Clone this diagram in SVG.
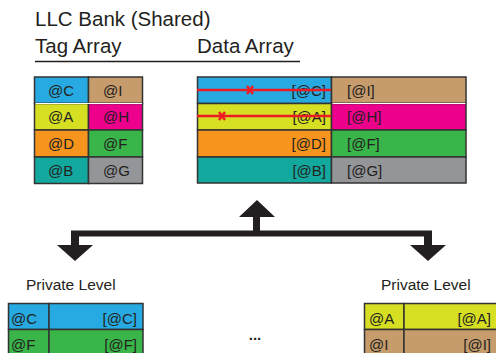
<svg xmlns="http://www.w3.org/2000/svg" width="496" height="353" viewBox="0 0 496 353">
<style>
text{font-family:"Liberation Sans",Arial,sans-serif;fill:#231F20}
.t{font-size:20.5px}
.c{font-size:15px}
.p{font-size:15.5px}
.e{text-anchor:end}
.b{stroke:#333;stroke-width:1.5}
.blue{fill:#27AAE1}.tan{fill:#C69C6D}.yel{fill:#D7DF23}.mag{fill:#EC008C}
.org{fill:#F7941D}.grn{fill:#39B54A}.teal{fill:#13A89E}.gry{fill:#939598}
.red{stroke:#ED1C24;stroke-width:2.5;fill:none}
.arr{fill:#231F20}
</style>
<g id="title">
<text class="t" x="35" y="26">LLC Bank (Shared)</text>
<text class="t" x="35" y="53">Tag Array</text>
<text class="t" x="197" y="53">Data Array</text>
<line x1="35" y1="61.5" x2="300" y2="61.5" stroke="#231F20" stroke-width="1.5"/>
</g>
<g id="tag-array">
<rect class="blue b" x="34.5" y="77" width="54" height="26.5"/>
<rect class="tan b" x="88.5" y="77" width="54" height="26.5"/>
<rect class="yel b" x="34.5" y="103.5" width="54" height="26.5"/>
<rect class="mag b" x="88.5" y="103.5" width="54" height="26.5"/>
<rect class="org b" x="34.5" y="130" width="54" height="27"/>
<rect class="grn b" x="88.5" y="130" width="54" height="27"/>
<rect class="teal b" x="34.5" y="157" width="54" height="26.5"/>
<rect class="gry b" x="88.5" y="157" width="54" height="26.5"/>
<line x1="35.5" y1="103.5" x2="142" y2="103.5" stroke="#fff" stroke-width="1"/>
<text class="c" x="48" y="96">@C</text><text class="c" x="103" y="96">@I</text>
<text class="c" x="48" y="122">@A</text><text class="c" x="103" y="122">@H</text>
<text class="c" x="48" y="149">@D</text><text class="c" x="103" y="149">@F</text>
<text class="c" x="48" y="176">@B</text><text class="c" x="103" y="176">@G</text>
</g>
<g id="data-array">
<rect class="blue b" x="197.5" y="77" width="134" height="26.5"/>
<rect class="tan b" x="331.5" y="77" width="134.5" height="26.5"/>
<rect class="yel b" x="197.5" y="103.5" width="134" height="26.5"/>
<rect class="mag b" x="331.5" y="103.5" width="134.5" height="26.5"/>
<rect class="org b" x="197.5" y="130" width="134" height="27"/>
<rect class="grn b" x="331.5" y="130" width="134.5" height="27"/>
<rect class="teal b" x="197.5" y="157" width="134" height="26"/>
<rect class="gry b" x="331.5" y="157" width="134.5" height="26"/>
<line x1="332.5" y1="103.5" x2="465.5" y2="103.5" stroke="#fff" stroke-width="1"/>
<text class="c e" x="326" y="96">[@C]</text><text class="c" x="347" y="96">[@I]</text>
<text class="c e" x="326" y="122">[@A]</text><text class="c" x="347" y="122">[@H]</text>
<text class="c e" x="326" y="149">[@D]</text><text class="c" x="347" y="149">[@F]</text>
<text class="c e" x="326" y="176">[@B]</text><text class="c" x="347" y="176">[@G]</text>
<line class="red" x1="197" y1="90" x2="331" y2="90"/>
<path class="red" d="M247 86L253 94M253 86L247 94"/>
<line class="red" x1="197" y1="116" x2="331" y2="116"/>
<path class="red" d="M219 112L225 120M225 112L219 120"/>
</g>
<g id="connectors">
<path class="arr" d="M71 230.5H432V245H446L428 261L410 245H424V236.5H79V245H93L75 261L57 245H71Z"/>
<path class="arr" d="M253 231V217H239L257 200L275 217H260V231Z"/>
</g>
<g id="private-left">
<text class="p" x="26" y="290">Private Level</text>
<rect class="blue b" x="8.5" y="303.5" width="40.5" height="26"/>
<rect class="blue b" x="49" y="303.5" width="94" height="26"/>
<rect class="grn b" x="8.5" y="329.5" width="40.5" height="30"/>
<rect class="grn b" x="49" y="329.5" width="94" height="30"/>
<text class="c" x="11" y="324">@C</text><text class="c e" x="137" y="324">[@C]</text>
<text class="c" x="11" y="350">@F</text><text class="c e" x="137" y="350">[@F]</text>
</g>
<g id="ellipsis">
<text class="c" x="255" y="340" text-anchor="middle" font-weight="bold">...</text>
</g>
<g id="private-right">
<text class="p" x="381" y="290">Private Level</text>
<rect class="yel b" x="364.5" y="303.5" width="39.5" height="26"/>
<rect class="yel b" x="404" y="303.5" width="95" height="26"/>
<rect class="tan b" x="364.5" y="329.5" width="39.5" height="30"/>
<rect class="tan b" x="404" y="329.5" width="95" height="30"/>
<text class="c" x="369" y="324">@A</text><text class="c e" x="491" y="324">[@A]</text>
<text class="c" x="369" y="350">@I</text><text class="c e" x="491" y="350">[@I]</text>
</g>
</svg>
